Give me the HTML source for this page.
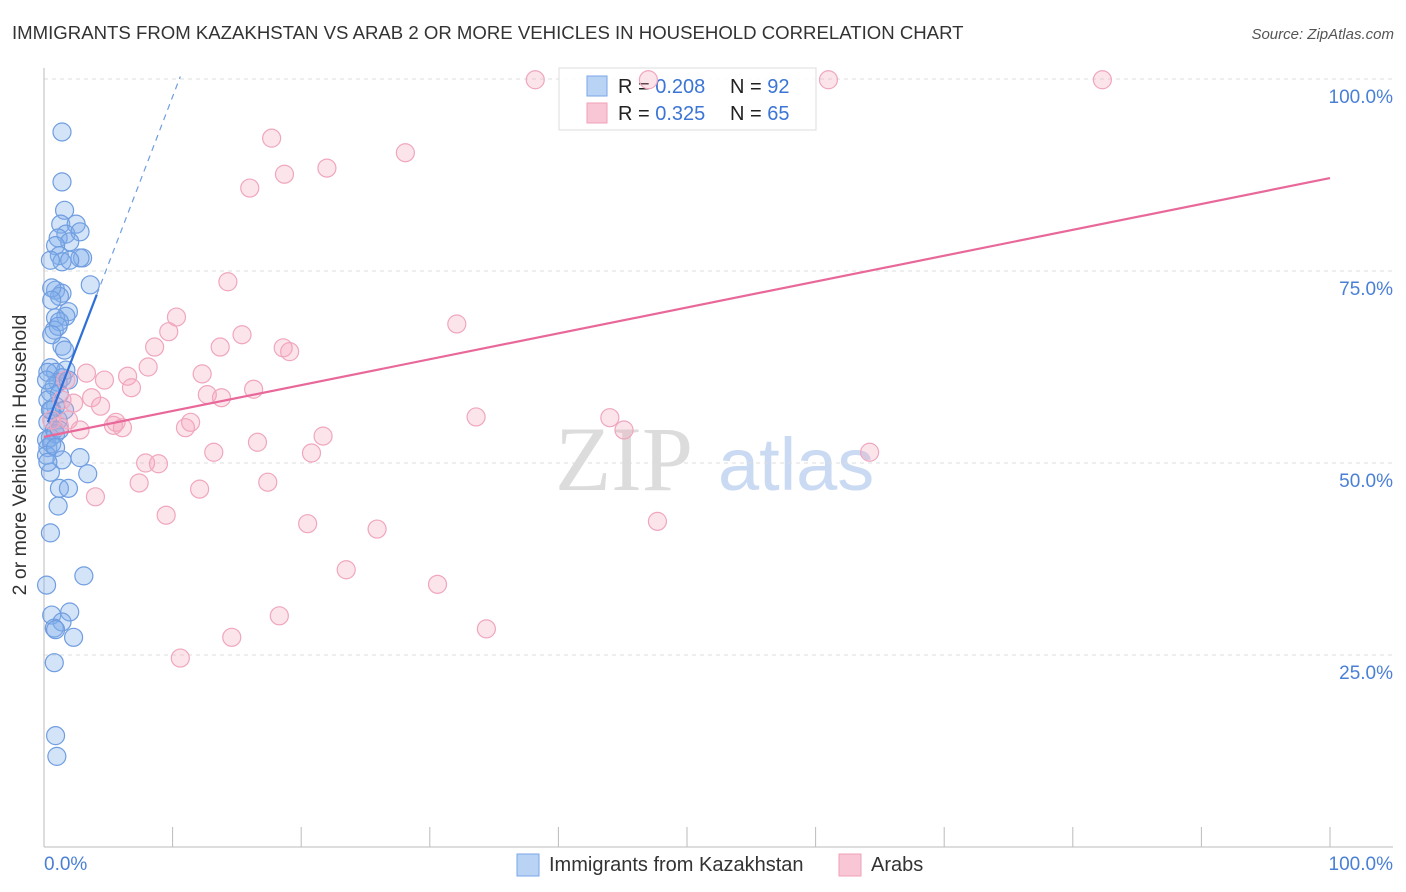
<!DOCTYPE html>
<html><head><meta charset="utf-8"><style>
body{margin:0;background:#fff;font-family:"Liberation Sans",sans-serif;}
svg{display:block}
</style></head><body>
<svg id="chart" width="1406" height="892">
<text x="12" y="39" font-size="18.6" fill="#333">IMMIGRANTS FROM KAZAKHSTAN VS ARAB 2 OR MORE VEHICLES IN HOUSEHOLD CORRELATION CHART</text>
<text x="1394" y="39" font-size="15" fill="#555" font-style="italic" text-anchor="end">Source: ZipAtlas.com</text>
<g>
<text x="555" y="490" font-size="92" fill="#dcdcdc" font-family="Liberation Serif,serif">ZIP</text>
<text x="718" y="490" font-size="74" fill="#c9daf2">atlas</text>
</g>
<g id="grid"></g><g id="axes"></g>
<g>
<rect x="559" y="68" width="257" height="62" fill="#fff" fill-opacity="0.85" stroke="#ddd"/>
<rect x="587" y="76" width="20" height="20" fill="#b9d3f5" stroke="#7aa6e6"/>
<rect x="587" y="103" width="20" height="20" fill="#f9c6d5" stroke="#f0a0b8"/>
<text x="618" y="93" font-size="20" fill="#222">R = <tspan fill="#3b75d6">0.208</tspan></text>
<text x="730" y="93" font-size="20" fill="#222">N = <tspan fill="#3b75d6">92</tspan></text>
<text x="618" y="120" font-size="20" fill="#222">R = <tspan fill="#3b75d6"> 0.325</tspan></text>
<text x="730" y="120" font-size="20" fill="#222">N = <tspan fill="#3b75d6">65</tspan></text>
</g>
<g id="pts"></g><g id="lines"></g>
<text x="26" y="455" font-size="19.5" fill="#333" text-anchor="middle" transform="rotate(-90 26 455)">2 or more Vehicles in Household</text>
<text x="44" y="870" font-size="19" fill="#4a7fd6">0.0%</text>
<text x="1393" y="870" font-size="19" fill="#4a7fd6" text-anchor="end">100.0%</text>
<g>
<rect x="517" y="854" width="22" height="22" fill="#b9d3f5" stroke="#7aa6e6"/>
<text x="549" y="871" font-size="20" fill="#333">Immigrants from Kazakhstan</text>
<rect x="839" y="854" width="22" height="22" fill="#f9c6d5" stroke="#f0a0b8"/>
<text x="871" y="871" font-size="20" fill="#333">Arabs</text>
</g>
</svg>
<script>
const yTicks=[25,50,75,100];
const yTickLabels=["25.0%","50.0%","75.0%","100.0%"];
const xTicks=[0,10,20,30,40,50,60,70,80,90,100];
const blueX=[1.4,1.4,1.6,1.3,2.5,1.7,1.1,2.8,2.0,0.9,1.2,1.4,0.5,3.0,2.8,3.6,0.9,1.4,1.2,0.6,1.9,1.7,0.9,1.2,0.8,1.1,1.4,1.6,0.6,0.5,1.7,0.9,0.3,1.4,1.1,0.8,1.9,0.5,1.2,0.9,0.6,1.6,0.3,1.1,0.8,0.5,0.2,0.9,0.3,0.6,0.2,0.9,1.4,2.8,3.4,0.5,1.2,1.9,1.1,0.5,3.1,0.2,2.0,0.6,1.4,0.8,0.9,2.3,0.8,0.9,1.0,0.3,0.6,2.0,1.2,0.5,0.2,0.3];
const blueY=[93.1,86.6,82.9,81.1,81.1,79.8,79.3,80.1,78.8,78.3,77.0,76.2,76.4,76.7,76.7,73.2,72.5,72.1,71.7,72.8,69.7,69.1,68.9,68.4,67.3,67.8,65.2,64.7,66.7,62.4,62.1,61.8,61.8,61.1,60.5,60.0,60.8,59.2,59.0,57.4,56.9,56.9,55.3,55.6,54.3,53.3,53.0,53.8,52.0,52.5,51.0,52.0,50.4,50.7,48.6,48.8,46.7,46.7,44.4,40.9,35.3,34.1,30.6,30.2,29.3,28.5,28.3,27.3,24.0,14.5,11.8,58.2,71.2,76.4,54.3,56.9,60.8,50.1];
const pinkX=[38.2,47.0,61.0,82.3,17.7,28.1,22.0,18.7,16.0,14.3,10.3,32.1,15.4,9.7,8.6,13.7,18.6,19.1,8.1,12.3,6.5,3.3,4.7,6.8,16.3,12.7,13.8,3.7,2.3,4.4,33.6,44.0,5.6,5.4,11.4,6.1,11.0,1.9,2.8,1.2,45.1,21.7,16.6,13.2,20.8,64.2,7.9,8.9,7.4,17.4,12.1,4.0,9.5,20.5,25.9,47.7,23.5,30.6,18.3,34.4,14.6,10.6,1.7,0.6,1.4];
const pinkY=[99.9,99.9,99.9,99.9,92.3,90.4,88.4,87.6,85.8,73.6,69.0,68.1,66.7,67.1,65.1,65.1,65.0,64.5,62.5,61.6,61.3,61.7,60.8,59.8,59.6,58.9,58.5,58.5,57.8,57.4,56.0,55.9,55.3,54.9,55.3,54.6,54.6,55.6,54.3,54.8,54.3,53.5,52.7,51.4,51.3,51.4,50.0,49.9,47.4,47.5,46.6,45.6,43.2,42.1,41.4,42.4,36.1,34.2,30.1,28.4,27.3,24.6,60.8,55.6,58.2];
const pinkTrend=[53.4,87.1];
const blueTrend=[54.0,4.37];
const NS="http://www.w3.org/2000/svg";
const X=v=>44+v*12.86, Y=v=>847-v*7.68;
function mk(t,a,p){const e=document.createElementNS(NS,t);for(const k in a)e.setAttribute(k,a[k]);p.appendChild(e);return e;}
const grid=document.getElementById('grid'),axes=document.getElementById('axes'),pts=document.getElementById('pts'),lines=document.getElementById('lines');
yTicks.forEach((t,i)=>{
 const l=mk('line',{x1:44,x2:1393,y1:Y(t),y2:Y(t),stroke:'#ddd','stroke-dasharray':'4,4'},grid);
 
 
 const tx=mk('text',{x:1393,y:Y(t)+24,'font-size':19,fill:'#4a7fd6','text-anchor':'end'},grid);
 tx.textContent=yTickLabels[i];
 
 
});
const ya=mk('line',{x1:44,x2:44,y1:68,y2:847,stroke:'#bbb'},axes);


const xa=mk('line',{x1:44,x2:1393,y1:847,y2:847,stroke:'#bbb'},axes);


xTicks.forEach(t=>{
 const l=mk('line',{x1:X(t),x2:X(t),y1:827,y2:847,stroke:'#bbb'},axes);
 
 
});
blueX.forEach((v,i)=>{
 const c=mk('circle',{cx:X(v),cy:Y(blueY[i]),r:9,fill:'rgba(130,175,235,0.35)',stroke:'#6f9de0','stroke-width':1.2},pts);
 
 
});
pinkX.forEach((v,i)=>{
 const c=mk('circle',{cx:X(v),cy:Y(pinkY[i]),r:9,fill:'rgba(245,165,190,0.3)',stroke:'#f0a6bd','stroke-width':1.2},pts);
 
 
});
const pl=mk('line',{x1:X(0),y1:Y(pinkTrend[0]),x2:X(100),y2:Y(pinkTrend[1]),stroke:'#e8689a','stroke-width':2.2},lines);


const bf=x=>blueTrend[0]+blueTrend[1]*x;
const bs=mk('line',{x1:X(0.3),y1:Y(bf(0.3)),x2:X(4.1),y2:Y(bf(4.1)),stroke:'#2f6fd8','stroke-width':2.2},lines);


const bd=mk('line',{x1:X(4.1),y1:Y(bf(4.1)),x2:X(10.6),y2:Y(bf(10.6)),stroke:'#6f9de0','stroke-width':1.2,'stroke-dasharray':'6,5'},lines);


</script>
</body></html>
